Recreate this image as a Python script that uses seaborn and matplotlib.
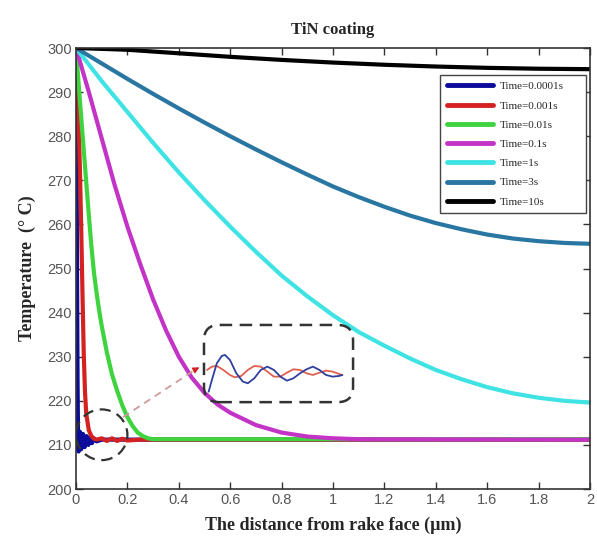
import numpy as np
import pandas as pd
import matplotlib
matplotlib.use("Agg")
import matplotlib.pyplot as plt
import seaborn as sns
from matplotlib.patches import Ellipse, FancyBboxPatch

# values
labels = ['Time=0.0001s', 'Time=0.001s', 'Time=0.01s', 'Time=0.1s',
          'Time=1s', 'Time=3s', 'Time=10s']
colors = ['#0b0b9c', '#d42222', '#3fd43f', '#c233c6', '#3fe3e3', '#2a76a2', '#000000']

x_blue = [0, 0.002, 0.004, 0.006, 0.008, 0.01, 0.015, 0.02, 0.027, 0.034, 0.041,
          0.048, 0.055, 0.062, 0.07, 0.08, 0.1, 2.0]
t_blue = [300, 280, 250, 225, 212, 208.5, 213, 209, 212.5, 209.5, 212,
          210, 211.8, 210.4, 211.5, 210.8, 211.2, 211.2]

x_red = [0, 0.005, 0.01, 0.015, 0.02, 0.025, 0.03, 0.035, 0.04, 0.05, 0.06, 0.07,
         0.08, 0.1, 0.12, 0.14, 0.16, 0.18, 0.2, 0.25, 2.0]
t_red = [300, 293, 284, 273, 260, 245, 231, 222, 217, 213.3, 212, 211.4,
         211.2, 211.5, 210.9, 211.5, 210.9, 211.4, 211.0, 211.2, 211.2]

x_green = [0, 0.01, 0.02, 0.03, 0.04, 0.05, 0.06, 0.07, 0.08, 0.09, 0.1, 0.12, 0.14,
           0.16, 0.18, 0.2, 0.22, 0.24, 0.26, 0.28, 0.3, 2.0]
t_green = [300, 292, 284.5, 277, 269.5, 262, 255, 249, 244.5, 240.5, 237, 231, 226,
           222.3, 219, 216.3, 214.3, 212.8, 212, 211.5, 211.3, 211.3]

x_mag = [0, 0.05, 0.1, 0.15, 0.2, 0.25, 0.3, 0.35, 0.4, 0.45, 0.5, 0.55, 0.6, 0.7,
         0.8, 0.9, 1.0, 1.1, 2.0]
t_mag = [300, 290, 279.5, 269, 259.5, 251, 243, 236, 230, 225.3, 221.8, 219.2, 217.3,
         214.5, 212.8, 211.9, 211.5, 211.3, 211.2]

x_cyan = [0, 0.1, 0.2, 0.3, 0.4, 0.5, 0.6, 0.7, 0.8, 0.9, 1.0, 1.1, 1.2, 1.3, 1.4,
          1.5, 1.6, 1.7, 1.8, 1.9, 2.0]
t_cyan = [300, 292.5, 285.5, 278.5, 271.8, 265.5, 259.5, 253.8, 248.4, 243.7, 239.4,
          235.6, 232.5, 229.6, 227, 224.9, 223.1, 221.7, 220.7, 220, 219.6]

x_teal = [0, 0.1, 0.2, 0.3, 0.4, 0.5, 0.6, 0.7, 0.8, 0.9, 1.0, 1.1, 1.2, 1.3, 1.4,
          1.5, 1.6, 1.7, 1.8, 1.9, 2.0]
t_teal = [300, 296.5, 293, 289.6, 286.3, 283.1, 280, 277, 274.1, 271.3, 268.6,
          266.2, 264, 262, 260.3, 258.9, 257.7, 256.8, 256.2, 255.8, 255.6]

x_black = [0, 0.2, 0.4, 0.6, 0.8, 1.0, 1.2, 1.4, 1.6, 1.8, 2.0]
t_black = [300, 299.6, 298.8, 298, 297.3, 296.7, 296.2, 295.8, 295.5, 295.3, 295.2]

# zoomed oscillation shown in the inset (relative units)
inset_xb = [0, 0.024, 0.061, 0.098, 0.122, 0.159, 0.207, 0.256, 0.293, 0.341, 0.390,
            0.439, 0.488, 0.537, 0.585, 0.634, 0.683, 0.732, 0.780, 0.829, 0.878,
            0.927, 0.976, 1.0]
inset_blue = [-1.0, -0.364, 0.545, 0.945, 1.0, 0.727, 0, -0.455, -0.545, -0.273, 0.182,
              0.364, 0.182, -0.182, -0.4, -0.273, 0, 0.218, 0.364, 0.182, -0.091,
              -0.182, -0.145, -0.091]
inset_xr = [-0.012, 0.024, 0.061, 0.110, 0.159, 0.195, 0.244, 0.293, 0.341, 0.390,
            0.439, 0.488, 0.537, 0.585, 0.634, 0.683, 0.732, 0.780, 0.829, 0.878,
            0.927, 0.976, 1.0]
inset_red = [0.182, 0.364, 0.4, 0.182, -0.091, -0.218, -0.145, 0.182, 0.4, 0.364,
             0.091, -0.182, -0.182, 0.036, 0.218, 0.182, 0, -0.091, 0.036, 0.145,
             0.091, -0.036, -0.091]

series = [(x_blue, t_blue), (x_red, t_red), (x_green, t_green), (x_mag, t_mag),
          (x_cyan, t_cyan), (x_teal, t_teal), (x_black, t_black)]
frames = []
for lab, (xs, ts) in zip(labels, series):
    frames.append(pd.DataFrame({'x': xs, 'T': ts, 'series': lab}))
df = pd.concat(frames, ignore_index=True)

sns.set_style("ticks")
plt.rcParams['font.family'] = ['Liberation Sans', 'DejaVu Sans']

fig = plt.figure(figsize=(5.97, 5.43), dpi=100)
ax = fig.add_axes([0.1273, 0.0994, 0.861, 0.8122])

sns.lineplot(data=df, x='x', y='T', hue='series', hue_order=labels,
             palette=dict(zip(labels, colors)), sort=False, estimator=None,
             linewidth=3, ax=ax, legend=False)

ax.set_xlim(0, 2)
ax.set_ylim(200, 300)
ax.set_xticks(np.arange(0, 2.01, 0.2))
ax.set_xticklabels(['0', '0.2', '0.4', '0.6', '0.8', '1', '1.2', '1.4', '1.6', '1.8', '2'])
ax.set_yticks(np.arange(200, 301, 10))
ax.tick_params(direction='in', length=5, width=1, top=True, right=True,
               labelsize=10.5, labelcolor='#555555', color='#333333', pad=3)
for sp in ax.spines.values():
    sp.set_visible(True)
    sp.set_color('#333333')
    sp.set_linewidth(1.2)

ax.set_xlabel('The distance from rake face (µm)', family='Liberation Serif',
              fontweight='bold', fontsize=13, labelpad=7)
ax.set_ylabel('Temperature  (° C)', family='Liberation Serif',
              fontweight='bold', fontsize=13, labelpad=8)
ax.set_title('TiN coating', family='Liberation Serif', fontweight='bold',
             fontsize=12, pad=10)

handles = [plt.Line2D([], [], color=c, lw=3.5) for c in colors]
leg = ax.legend(handles, labels, loc='upper left', bbox_to_anchor=(0.708, 0.839, 0.284, 0.1),
                mode='expand', prop={'family': 'Liberation Serif', 'size': 8},
                handlelength=4.2, labelspacing=0.85, handletextpad=0.6,
                borderpad=0.6, borderaxespad=0, fancybox=False, framealpha=1,
                edgecolor='#444444')
leg.get_frame().set_linewidth(1.0)

# annotation: dashed ellipse, dashed connector, rounded dashed box
ax.add_patch(Ellipse((0.1, 212.3), 0.2, 11.5, fill=False, ls=(0, (5, 3)),
                     lw=1.6, ec='#333333', zorder=5))
ax.plot([0.183, 0.47], [216.3, 227.3], ls=(0, (4, 3)), color='#d09a9a', lw=1.3, zorder=5)
ax.annotate('', xy=(0.49, 227.9), xytext=(0.455, 226.8),
            arrowprops=dict(arrowstyle='-|>', color='#d42222', lw=1, mutation_scale=9),
            zorder=6)
ax.add_patch(FancyBboxPatch((0.498, 219.7), 0.58, 17.5,
                            boxstyle='round,pad=0,rounding_size=0.06',
                            mutation_aspect=58.3, fill=False, ls=(0, (5, 3)),
                            lw=1.8, ec='#333333', zorder=5))

ins = fig.add_axes([206 / 597, 1 - 393.3 / 543, 139 / 597, 40 / 543])
ins.patch.set_alpha(0)
ins.plot(inset_xr, inset_red, color='#e0604f', lw=1.3)
ins.plot(inset_xb, inset_blue, color='#2f3f9f', lw=1.3)
ins.set_xlim(-0.02, 1.02)
ins.set_ylim(-1.09, 1.09)
ins.axis('off')

fig.savefig('out.png', dpi=100)
